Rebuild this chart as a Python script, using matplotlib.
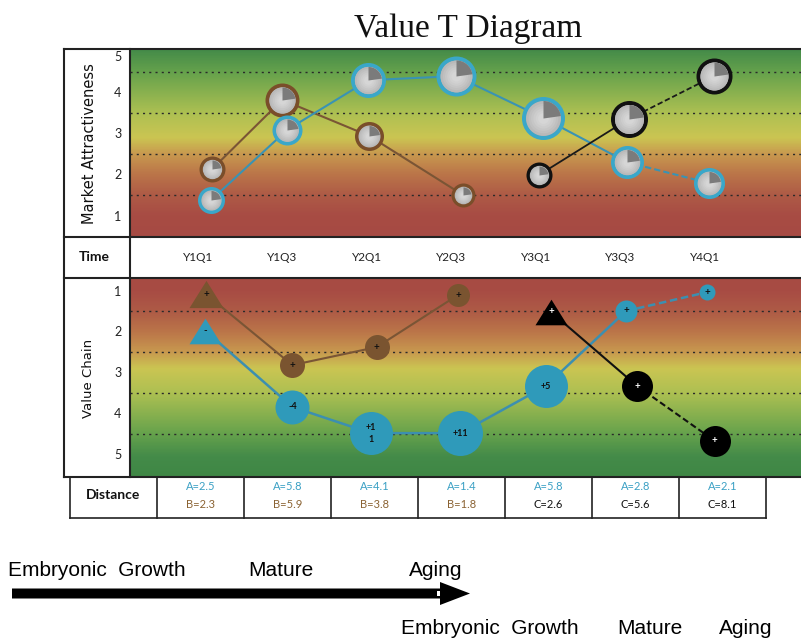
import matplotlib.pyplot as plt
import numpy as np
from matplotlib.colors import LinearSegmentedColormap
from matplotlib.path import Path
from matplotlib.patches import Polygon, Rectangle

# ---- data ---------------------------------------------------------------
quarters = ['Y1Q1', 'Y1Q3', 'Y2Q1', 'Y2Q3', 'Y3Q1', 'Y3Q3', 'Y4Q1']

# market attractiveness (upper panel), x = quarter index
a_top_x = [0.05, 0.95, 1.91, 2.95, 3.98, 4.97, 5.94]
a_top_y = [1.38, 3.09, 4.30, 4.40, 3.38, 2.30, 1.79]
a_top_size = [27, 30, 35, 40, 43, 33, 31]
b_top_x = [0.06, 0.89, 1.92, 3.03]
b_top_y = [2.13, 3.82, 2.94, 1.50]
b_top_size = [26, 34, 29, 24]
c_top_x = [3.93, 4.99, 6.00]
c_top_y = [1.99, 3.35, 4.40]
c_top_size = [26, 37, 36]

# value chain position (lower panel)
a_bot_x = [-0.02, 1.01, 1.94, 3.00, 4.01, 4.96, 5.92]
a_bot_y = [1.98, 3.84, 4.48, 4.48, 3.33, 1.50, 1.04]
a_bot_size = [32, 34, 43, 45, 43, 22, 16]
a_bot_text = ['-', '-4', '+1\n1', '+11', '+5', '+', '+']
b_bot_x = [-0.01, 1.01, 2.01, 2.97]
b_bot_y = [1.09, 2.82, 2.38, 1.11]
b_bot_size = [34, 25, 25, 23]
b_bot_text = ['+', '+', '+', '+']
c_bot_x = [4.07, 5.09, 6.01]
c_bot_y = [1.52, 3.33, 4.67]
c_bot_size = [32, 31, 31]
c_bot_text = ['+', '+', '+']

dist_a = [2.5, 5.8, 4.1, 1.4, 5.8, 2.8, 2.1]
dist_b = [2.3, 5.9, 3.8, 1.8]
dist_c = [2.6, 5.6, 8.1]

stages = ['Embryonic  Growth', 'Mature', 'Aging']

# ---- colours ------------------------------------------------------------
BLUE = '#2f9aba'
BLUE_RING = '#3aa7c9'
BROWN = '#7a5430'
BLACK = '#000000'
FRAME = '#222222'
PT = 0.72  # points per pixel at 100 dpi

W, H = 801, 641
fig = plt.figure(figsize=(W / 100, H / 100), dpi=100)


def px_rect(x0, y0, x1, y1):
    return [x0 / W, 1 - y1 / H, (x1 - x0) / W, (y1 - y0) / H]


ax_top = fig.add_axes(px_rect(130, 49, 801, 237))
ax_time = fig.add_axes(px_rect(130, 237, 801, 278))
ax_bot = fig.add_axes(px_rect(130, 278, 801, 477))
ax_tab = fig.add_axes(px_rect(70, 477, 766, 518))

XLIM = (-0.911, 7.03)
TOP_LIM = (0.476, 5.06)
BOT_LIM = (5.55, 0.695)

# red -> yellow -> green band, keyed on the 1..5 score
stops = [(0.476, '#a64a43'), (1.0, '#a84c44'), (1.5, '#ae5b46'), (2.0, '#bb7549'),
         (2.5, '#c8994f'), (2.9, '#cbc552'), (3.5, '#adc052'), (4.5, '#66a24c'),
         (5.06, '#448b49'), (5.55, '#3f8745')]
vmin, vmax = stops[0][0], stops[-1][0]
band = LinearSegmentedColormap.from_list(
    'band', [((v - vmin) / (vmax - vmin), c) for v, c in stops])


def setup_panel(ax, ylim):
    vals = np.linspace(ylim[0], ylim[1], 300)[:, None]
    ax.imshow(vals, extent=(XLIM[0], XLIM[1], ylim[0], ylim[1]), origin='lower',
              cmap=band, vmin=vmin, vmax=vmax, aspect='auto', zorder=0,
              interpolation='bilinear')
    ax.set_xlim(*XLIM)
    ax.set_ylim(*ylim)
    for g in [1.5, 2.5, 3.5, 4.5]:
        ax.axhline(g, color='#2a2a2a', lw=1.0, ls=(0, (1.5, 3)), zorder=1)
    ax.set_xticks([])
    ax.set_yticks([1, 2, 3, 4, 5])
    ax.set_yticklabels(['1', '2', '3', '4', '5'], fontsize=9, family='Lato',
                       color='#222222')
    ax.tick_params(axis='y', length=0, pad=6)
    for s in ax.spines.values():
        s.set_visible(False)


setup_panel(ax_top, TOP_LIM)
setup_panel(ax_bot, BOT_LIM)
# keep the top "5" clear of the frame
ax_top.get_yticklabels()[-1].set_va('top')


def draw_path(ax, xs, ys, color, lw, dashed_from=None):
    n = len(xs) if dashed_from is None else dashed_from + 1
    ax.plot(xs[:n], ys[:n], color=color, lw=lw, zorder=2, solid_capstyle='round')
    if dashed_from is not None:
        ax.plot(xs[dashed_from:], ys[dashed_from:], color=color, lw=lw,
                ls=(0, (3, 1.5)), zorder=2)


wedge = Path.wedge(8, 90)
shades = ['#b2b2b2', '#b9b9b9', '#c0c0c0', '#c6c6c6', '#cccccc', '#d1d1d1', '#d6d6d6']


def pie_bubbles(ax, xs, ys, sizes, ring_color, ring=4):
    for x, y, d in zip(xs, ys, sizes):
        body = (d - ring) * PT
        ax.plot(x, y, 'o', ms=body, mfc=shades[0], mec=ring_color, mew=ring * PT,
                zorder=3)
        for k, c in enumerate(shades[1:], start=1):
            ax.plot(x, y, 'o', ms=body * (1 - k * 0.12), mfc=c, mec='none', zorder=4)
        ax.plot(x, y, marker=wedge, ms=(d - 2 * ring) * PT, mfc='#7b7b7b',
                mec='none', zorder=5)


draw_path(ax_top, b_top_x, b_top_y, '#7a5535', 1.5)
draw_path(ax_top, a_top_x, a_top_y, '#3993b4', 1.5, dashed_from=5)
draw_path(ax_top, c_top_x, c_top_y, '#1a1a1a', 1.3, dashed_from=1)
pie_bubbles(ax_top, b_top_x, b_top_y, b_top_size, '#7a4e2a')
pie_bubbles(ax_top, a_top_x, a_top_y, a_top_size, BLUE_RING)
pie_bubbles(ax_top, c_top_x, c_top_y, c_top_size, '#111111')

triangle = [(-1, -0.8), (1, -0.8), (0, 0.8)]


def solid_bubbles(ax, xs, ys, sizes, texts, color, text_color):
    for i, (x, y, d, t) in enumerate(zip(xs, ys, sizes, texts)):
        mk = triangle if i == 0 else 'o'
        ax.plot(x, y, marker=mk, ms=d * PT, mfc=color, mec='none', zorder=3)
        fs = 6.5 if len(t) > 1 else 7
        ax.text(x, y, t, ha='center', va='center', fontsize=fs, color=text_color,
                family='Lato', fontweight='bold', linespacing=1.4, zorder=4)


draw_path(ax_bot, b_bot_x, b_bot_y, '#7a5535', 1.5)
draw_path(ax_bot, a_bot_x, a_bot_y, '#3c8fb0', 1.8, dashed_from=5)
draw_path(ax_bot, c_bot_x, c_bot_y, '#111111', 1.5, dashed_from=1)
solid_bubbles(ax_bot, b_bot_x, b_bot_y, b_bot_size, b_bot_text, BROWN, '#111111')
solid_bubbles(ax_bot, a_bot_x, a_bot_y, a_bot_size, a_bot_text, BLUE, '#111111')
solid_bubbles(ax_bot, c_bot_x, c_bot_y, c_bot_size, c_bot_text, BLACK, 'white')

# time row
ax_time.set_xlim(*XLIM)
ax_time.set_ylim(0, 1)
ax_time.axis('off')
for i, q in enumerate(quarters):
    ax_time.text(i - 0.11, 0.5, q, ha='center', va='center', fontsize=8.5,
                 family='Lato', color='#222222')

# distance table
ax_tab.set_xlim(0, 8)
ax_tab.set_ylim(0, 1)
ax_tab.axis('off')
ax_tab.text(0.5, 0.55, 'Distance', ha='center', va='center', fontsize=10,
            family='Lato', fontweight='bold', color='#111111')
for i, a in enumerate(dist_a):
    ax_tab.text(i + 1.5, 0.76, f'A={a}', ha='center', va='center', fontsize=8,
                family='Lato', color='#3aa0c4')
second = [('B', v, '#8a6232') for v in dist_b] + [('C', v, '#111111') for v in dist_c]
for i, (name, v, col) in enumerate(second):
    ax_tab.text(i + 1.5, 0.32, f'{name}={v}', ha='center', va='center', fontsize=8,
                family='Lato', color=col)

# frame, labels and lifecycle arrow drawn in pixel space
ov = fig.add_axes([0, 0, 1, 1])
ov.set_xlim(0, W)
ov.set_ylim(H, 0)
ov.axis('off')
for y in [49, 237, 278, 477]:
    ov.plot([64, 801], [y, y], color=FRAME, lw=1.5)
for x in [64, 130]:
    ov.plot([x, x], [49, 477], color=FRAME, lw=1.5)
col_w = (766 - 70) / 8
for k in range(9):
    ov.plot([70 + k * col_w] * 2, [477, 518], color=FRAME, lw=1.2)
ov.plot([70, 766], [518, 518], color=FRAME, lw=1.2)

ov.text(468, 29, 'Value T Diagram', ha='center', va='center', fontsize=24,
        family='Liberation Serif', color='#111111')
ov.text(89, 144, 'Market Attractiveness', rotation=90, ha='center', va='center',
        fontsize=10.5, family='DejaVu Sans', color='#111111')
ov.text(89, 378, 'Value Chain', rotation=90, ha='center', va='center',
        fontsize=9.5, family='DejaVu Sans', color='#111111')
ov.text(94, 257, 'Time', ha='center', va='center', fontsize=10, family='Lato',
        fontweight='bold', color='#111111')

arrow = Polygon([(12, 588.5), (440, 588.5), (440, 582), (470, 593.5), (440, 605),
                 (440, 598.5), (12, 598.5)], closed=True, color='black', lw=0)
ov.add_patch(arrow)
ov.add_patch(Rectangle((437, 591), 3, 5, color='white', lw=0))

for label, x in zip(stages, [8, 248, 409]):
    ov.text(x, 570, label, ha='left', va='center', fontsize=15,
            family='Liberation Sans', color='black')
for label, x in zip(stages, [401, 617, 719]):
    ov.text(x, 628, label, ha='left', va='center', fontsize=15,
            family='Liberation Sans', color='black')

fig.savefig('out.png', dpi=100)
